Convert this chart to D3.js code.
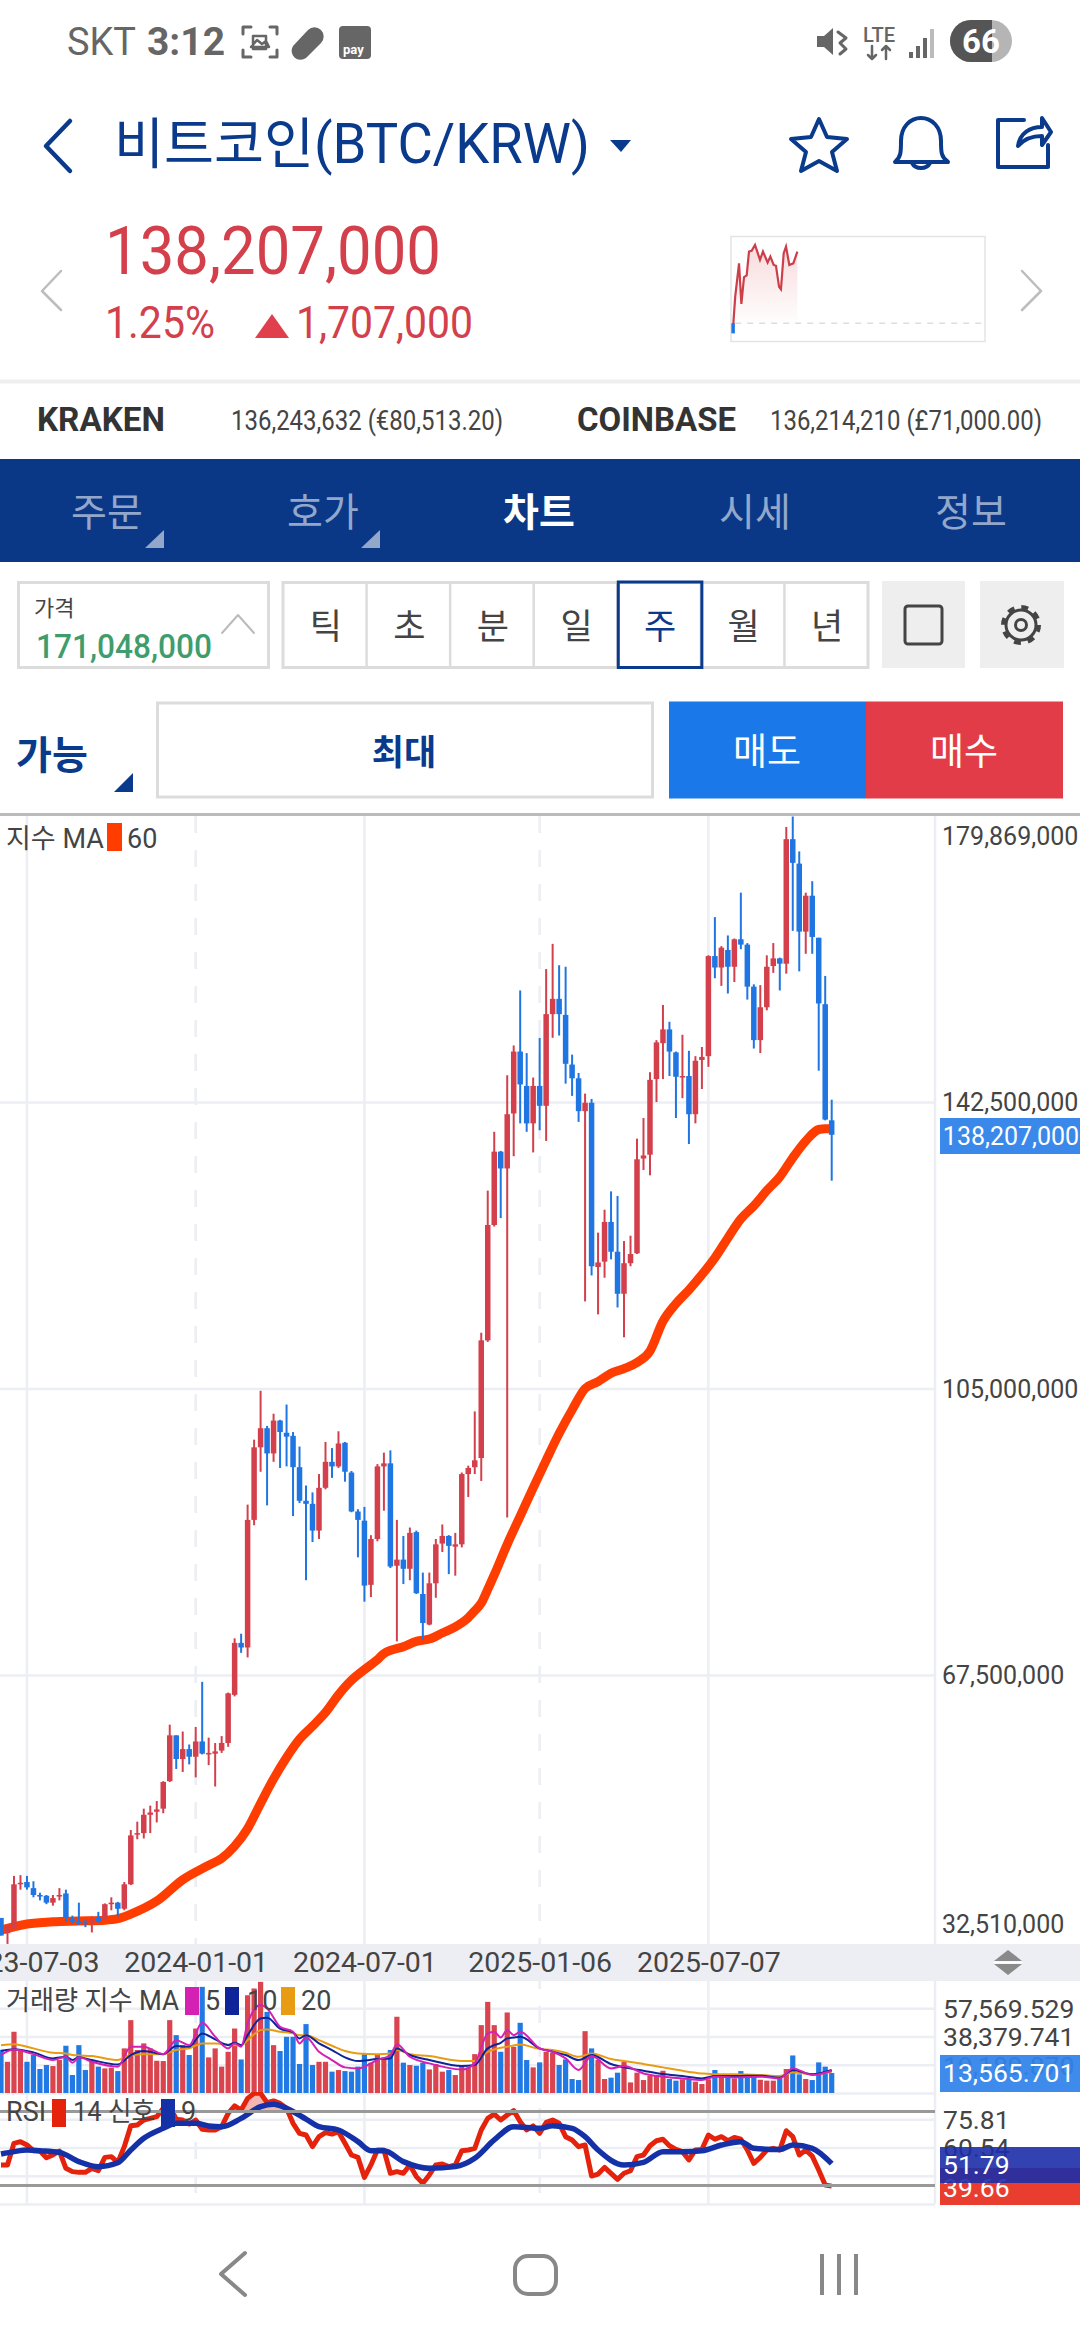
<!DOCTYPE html>
<html>
<head>
<meta charset="utf-8">
<style>
html,body{margin:0;padding:0;background:#fff;}
svg{display:block;}
text{font-family:Roboto,"Noto Sans CJK KR",sans-serif;}
</style>
<script src="https://cdn.jsdelivr.net/npm/d3@7"></script>
</head>
<body>
<div id="chart"></div>
<script>
// weekly candles in millions of KRW
var openPrice = [
35.7,33.7,34.3,40.1,40.4,39.6,38.7,38.6,37.7,38.5,
38.9,35.6,35.2,35.1,35.1,35.7,35.6,37.5,37.7,36.9,
40.1,46.6,46.8,49.2,49.6,50.0,53.6,59.6,56.5,57.8,
56.8,58.8,57.1,57.2,57.6,58.6,64.9,71.7,71.1,87.8,
97.3,99.8,96.5,100.8,99.2,98.8,94.7,90.3,89.9,86.4,
92.0,95.4,94.8,97.9,94.0,88.9,87.7,79.3,85.3,94.8,
95.2,81.8,82.6,81.4,86.2,78.1,74.1,79.5,84.7,85.7,
84.3,84.6,93.8,94.7,95.9,111.3,126.4,136.0,133.8,141.0,
149.1,144.6,139.7,144.6,142.0,154.0,156.0,153.9,147.4,145.6,
141.3,142.4,120.9,121.6,126.8,122.9,117.4,121.4,122.7,135.1,
135.6,145.5,150.2,152.0,149.0,145.7,145.9,140.9,148.0,148.5,
161.6,160.1,162.4,160.2,163.8,163.1,157.6,150.6,154.9,160.3,
161.3,160.6,176.9,173.7,164.8,169.5,164.0,155.3,140.1];
var closePrice = [
33.4,34.8,40.1,40.3,39.7,38.7,38.5,37.7,38.3,38.7,
35.7,35.2,35.1,35.0,35.5,35.2,37.5,37.7,36.9,40.1,
46.5,46.8,49.2,49.5,49.9,53.5,59.6,56.5,57.8,56.8,
58.8,57.2,57.3,57.5,58.6,65.1,71.7,71.1,87.8,97.3,
99.8,96.5,100.8,99.3,98.7,94.7,90.3,89.9,86.4,92.0,
95.4,94.8,97.8,94.1,88.9,87.8,79.2,85.3,94.8,95.2,
81.7,82.6,81.4,86.1,78.2,74.3,79.5,84.6,85.7,84.4,
84.6,93.8,94.6,95.6,111.3,126.4,136.0,133.8,140.9,149.1,
144.8,139.7,144.6,142.0,154.0,156.0,154.0,147.5,145.6,141.3,
142.4,121.0,121.5,126.8,122.9,117.4,121.4,122.6,135.0,135.5,
145.4,150.3,152.0,149.1,145.8,145.9,140.9,147.9,148.4,161.6,
160.1,162.7,160.2,163.8,163.1,157.6,150.6,154.9,160.2,161.3,
160.6,176.9,173.8,164.8,169.5,164.1,155.4,140.2,138.207];
var highPrice = [
35.7,34.8,41.2,41.3,41.2,40.5,39.0,38.7,38.7,39.6,
39.4,36.0,37.7,35.5,35.9,36.5,37.6,38.4,37.8,40.4,
47.2,48.3,50.0,50.4,51.0,53.6,61.0,59.6,60.1,58.4,
60.7,66.6,59.3,58.6,59.5,65.2,72.3,72.9,89.8,98.3,
104.7,100.1,101.7,100.9,102.9,99.3,97.4,92.3,91.4,93.8,
98.0,97.2,99.4,98.0,94.2,89.2,89.5,85.8,95.1,96.6,
96.9,87.8,85.7,86.8,86.4,80.9,80.9,85.3,87.2,85.8,
86.1,94.0,94.9,102.0,112.3,130.9,138.6,136.1,146.0,149.9,
157.1,148.9,145.7,150.9,159.9,163.2,160.4,160.2,148.7,146.3,
143.6,142.9,125.4,128.4,130.8,130.2,124.3,125.0,137.7,140.4,
146.4,150.6,155.2,153.0,149.1,151.3,149.2,148.5,149.7,161.7,
166.7,162.9,164.3,163.9,169.9,163.3,157.9,157.8,161.7,163.3,
161.4,178.5,179.869,175.3,169.9,171.4,164.0,159.0,142.8];
var lowPrice = [
33.4,32.3,34.3,39.4,39.4,38.4,38.0,37.5,37.3,38.0,
35.2,34.9,34.8,34.5,33.8,35.1,35.5,36.7,35.9,36.7,
40.0,46.0,46.1,46.8,48.2,49.4,53.5,55.2,54.8,55.8,
54.1,57.1,55.7,52.9,57.3,58.1,64.7,70.4,69.8,87.1,
94.1,89.7,95.4,94.6,94.8,88.3,90.0,79.9,84.9,85.3,
91.8,93.3,94.6,92.8,88.8,82.9,77.1,77.7,85.0,89.0,
81.5,71.9,79.4,79.9,78.1,72.1,74.0,77.6,83.6,80.7,
80.5,84.2,90.8,93.8,92.9,111.1,126.2,127.3,88.1,135.4,
139.7,138.6,135.9,138.8,137.4,150.9,151.2,144.9,143.3,139.9,
116.4,119.8,114.7,119.5,121.9,115.6,111.7,121.0,122.6,133.6,
132.9,142.5,145.5,145.9,140.4,143.0,137.0,139.7,144.2,147.1,
158.7,157.7,156.7,158.2,162.5,155.9,149.5,148.9,154.5,159.4,
157.1,159.3,164.9,159.6,161.9,161.9,146.6,140.1,132.2];

// price MA 60, candle number and value
var ma60Week = [0,4,8,12,16,18,20,24,28,32,34,36,38,40,42,44,46,48,50,52,54,56,58,59,62,64,66,68,70,72,73,74,75,76,78,80,82,84,86,88,90,92,94,96,98,100,102,104,106,108,110,112,114,116,118,120,122,124,126,127,128];
var ma60 = [34.1,34.9,35.2,35.3,35.4,35.6,36.2,37.9,40.7,42.6,43.5,45.1,47.4,50.7,53.9,56.7,59.1,60.8,62.6,64.9,66.8,68.2,69.5,70.3,71.2,71.9,72.2,73.0,73.8,75.0,75.9,76.9,78.7,80.6,84.6,88.3,92.0,95.6,99.1,102.2,105.0,105.9,107.0,107.6,108.4,109.9,113.8,116.1,117.9,119.9,122.1,124.7,127.2,128.9,130.9,132.7,135.2,137.4,138.9,139.0,139.0];

// volume in thousands
var volume = [
29.2,21.2,41.6,28.7,21.2,25.8,16.3,19.0,18.3,22.4,
32.1,12.2,32.5,15.6,22.4,17.9,16.7,17.2,14.9,30.3,
49.5,29.2,33.7,30.3,21.9,21.7,49.5,39.3,32.5,25.8,
43.8,72.1,24.2,30.3,17.9,28.0,43.8,22.8,66.4,71.0,
75.5,55.1,32.5,28.5,38.2,38.2,19.7,46.8,19.0,21.2,
21.2,14.5,15.6,14.9,14.5,17.9,26.4,20.6,25.8,24.2,
29.2,51.8,20.6,19.0,18.5,20.6,16.0,19.7,14.5,15.6,
12.2,18.3,17.4,26.4,46.1,61.9,46.1,28.0,54.7,31.4,
47.7,22.4,17.4,20.8,28.0,27.3,19.0,22.8,9.5,8.8,
42.0,30.3,22.4,9.5,10.4,13.8,21.2,7.2,13.8,8.8,
11.8,12.2,15.1,9.5,8.4,9.3,9.3,7.7,6.1,9.3,
15.6,12.2,11.5,9.9,14.9,11.8,11.8,9.0,8.4,8.4,
9.9,16.3,25.5,12.7,9.5,8.8,20.8,17.9,13.566];
var volMaWeek = [0,2,5,8,10,11,12,14,18,20,22,25,27,29,31,33,35,36,37,38,40,41,43,45,46,47,49,51,53,55,58,60,61,63,66,71,73,75,76,77,78,79,80,83,85,87,89,91,94,96,99,102,105,108,110,113,117,120,122,125,128];
var volMa5 = [25.8,29.6,26.4,22.4,24.6,20.6,24.2,21.2,17.9,31.4,31.4,26.4,35.9,32.5,47.7,38.2,30.3,33.7,31.4,47.2,59.7,57.4,45.0,41.6,33.7,37.7,28.0,22.4,17.4,16.7,22.4,25.8,33.2,24.6,20.1,16.0,20.1,40.5,41.6,37.7,42.7,39.3,41.6,30.3,28.0,23.5,15.6,25.1,16.7,18.3,13.3,11.1,9.9,8.8,11.1,10.6,11.1,9.9,16.7,12.2,15.1];
var volMa10 = [28.7,29.8,27.6,23.5,24.6,22.4,24.2,22.4,19.4,25.8,28.5,26.4,31.9,31.4,40.5,36.4,32.5,34.1,32.5,39.3,50.6,51.1,43.8,41.1,37.1,39.3,33.7,29.2,24.2,21.7,23.1,23.5,30.3,25.8,22.4,18.3,19.0,30.3,32.5,34.1,37.1,37.7,38.2,30.3,28.0,25.8,22.4,25.8,19.7,17.4,15.1,12.9,11.5,9.9,11.5,11.5,11.8,10.4,15.6,12.7,15.6];
var volMa20 = [32.5,33.2,30.3,27.3,26.9,25.8,25.5,25.1,22.4,25.8,26.4,26.4,29.2,30.3,33.7,33.7,33.0,32.5,32.5,35.9,42.7,43.2,41.6,40.5,39.3,39.3,35.9,32.1,28.5,26.9,26.4,26.9,29.2,26.4,25.1,21.7,21.7,28.0,29.6,30.7,31.4,32.3,33.0,29.8,29.2,27.3,24.6,26.9,23.1,21.7,19.7,17.4,15.1,13.3,12.7,12.7,12.2,11.5,14.0,12.7,14.5];

var rsi = [
51.1,51.1,62.8,63.7,61.9,58.8,58.6,55.0,56.5,58.6,
49.3,47.5,47.1,47.1,49.3,48.0,55.2,55.6,52.5,61.0,
72.3,72.7,75.4,76.3,77.2,81.7,82.6,75.8,75.4,73.2,
75.4,70.4,70.0,70.0,71.8,79.0,83.0,80.8,87.1,89.8,
89.8,84.8,85.7,84.4,81.7,73.6,68.2,67.3,61.0,66.4,
68.6,67.8,69.1,62.8,56.5,55.2,44.4,51.1,59.2,59.2,
46.6,47.5,46.6,51.1,44.8,41.2,45.7,51.1,51.6,50.2,
51.1,58.8,59.2,60.1,70.0,76.3,78.6,75.4,78.1,80.5,
74.5,70.0,72.2,68.2,74.1,75.4,73.6,66.4,64.6,61.0,
61.9,45.1,46.2,49.8,46.6,43.3,46.6,48.0,55.6,56.5,
61.5,64.2,65.0,61.5,59.5,58.3,53.8,59.2,59.5,67.3,
65.0,66.4,64.2,66.0,65.0,59.2,52.0,55.2,59.2,60.1,
59.2,69.6,66.4,56.5,59.2,55.9,48.4,40.3,39.66];
var signalWeek = [0,2,4,6,9,12,15,18,20,22,25,27,30,32,34,37,40,42,44,47,49,52,55,57,59,62,66,70,73,76,79,83,85,88,90,92,96,99,102,105,108,111,114,116,120,122,125,128];
var signal = [57.0,58.3,59.2,58.8,57.9,52.9,50.2,52.3,59.2,65.5,70.9,73.6,73.6,72.2,71.8,76.3,82.6,83.9,81.7,75.9,71.8,70.0,63.7,58.8,58.8,52.9,49.3,50.2,54.7,64.6,71.8,70.9,72.3,70.9,66.4,59.2,51.1,52.5,58.3,58.3,58.8,61.9,63.7,60.1,59.5,61.9,60.1,51.79];

// axis labels
var tickDates = ["2023-07-03","2024-01-01","2024-07-01","2025-01-06","2025-07-07"];
var dashedDates = ["2024-01-01","2025-01-06"];
var priceTicks = [179.869,142.5,105,67.5,32.51];
var volumeTicks = [57.569529,38.379741,19.18987];
var rsiTicks = [75.81,60.54,45.27];

// small intraday line next to the price
var sparkHour = [0.2,0.4,0.76,0.98,1.23,1.48,1.7,1.95,2.27,2.74,3.02,3.46,3.72,4.03,4.25,4.54,4.72,4.98,5.2,5.51,5.89,6.27];
var sparkPrice = [136.42,137.14,137.93,136.96,137.6,137.64,138.21,138.23,138.37,138.01,138.21,137.95,138.09,137.89,137.87,137.37,137.31,138.17,138.33,137.89,137.93,138.207];

var tabNames = ["주문","호가","차트","시세","정보"];
var periodNames = ["틱","초","분","일","주","월","년"];

var red = "#d3404c", blue = "#1f75e2", navy = "#0a3a8c";
var gridColor = "#eceef3", textColor = "#444";

var parseDay = d3.utcParse("%Y-%m-%d");
var firstWeek = parseDay("2023-06-05");
var weeks = openPrice.map(function(d,i){ return d3.utcMonday.offset(firstWeek,i); });

var svg = d3.select("#chart").append("svg")
    .attr("width",1080)
    .attr("height",2340)
    .attr("viewBox","0 0 1080 2340");

function label(x,y,txt,size,color,opt){
    opt = opt || {};
    var t = svg.append("text")
        .attr("x",x).attr("y",y)
        .attr("font-size",size)
        .attr("fill",color)
        .attr("font-weight",opt.weight || 400)
        .attr("text-anchor",opt.anchor || "start")
        .text(txt);
    if(opt.len){ t.attr("textLength",opt.len).attr("lengthAdjust","spacingAndGlyphs"); }
    return t;
}
function shape(d,fill,stroke,w){
    return svg.append("path").attr("d",d)
        .attr("fill",fill || "none")
        .attr("stroke",stroke || "none")
        .attr("stroke-width",w || 0)
        .attr("stroke-linejoin","round")
        .attr("stroke-linecap","round");
}
function box(x,y,w,h,fill,stroke,sw){
    return svg.append("rect").attr("x",x).attr("y",y).attr("width",w).attr("height",h)
        .attr("fill",fill || "none").attr("stroke",stroke || "none").attr("stroke-width",sw || 0);
}

// ---- status bar
label(67,55,"SKT",38,"#666",{len:69});
label(147,55,"3:12",38,"#666",{weight:700,len:78});
shape("M243 34v-7h8M270 27h7v7M277 50v7h-7M251 57h-8v-7",null,"#666",3);
shape("M251 47l6-7 5 4 4-3 3 6z M253 36h13v13h-13z",null,"#666",2.5);
shape("M293 46l15-16a9 9 0 0 1 13 13l-15 15a9 9 0 0 1-13-12z","#666");
box(339,26,32,33,"#666").attr("rx",4);
label(343,54,"pay",13,"#fff",{weight:700});
shape("M817 36h7l9-8v27l-9-8h-7z","#666");
shape("M838 32l8 6-6 5 6 6-6 5",null,"#666",3);
label(863,42,"LTE",20,"#666",{weight:500,len:32});
shape("M872 46v13M868 55l4 4 4-4M886 59v-13M882 50l4-4 4 4",null,"#666",2.5);
box(909,52,4,6,"#666"); box(916,46,4,12,"#666"); box(923,38,4,20,"#666"); box(930,29,4,29,"#bbb");
svg.append("rect").attr("x",950).attr("y",20).attr("width",62).attr("height",42).attr("rx",21).attr("fill","#b5b5b5");
shape("M992 20h-21a21 21 0 0 0 0 42h21z","#555");
label(981,53,"66",33,"#fff",{weight:700,anchor:"middle"});

// ---- header
shape("M70 121l-24 25 24 25",null,navy,4.5);
label(114,163,"비트코인(BTC/KRW)",55,navy,{len:476});
shape("M610 140h21l-10 12z",navy);
shape("M819 119l8 18 20 2-15 13 5 19-18-10-18 10 5-19-15-13 20-2z",null,navy,4);
shape("M895 162c6-5 6-10 6-21 0-14 9-23 20-23s20 9 20 23c0 11 0 16 7 21z M912 163a10 9 0 0 0 18 0",null,navy,4);
shape("M1024 120h-26v47h50v-22",null,navy,4);
shape("M1018 146c2-13 12-19 24-19v-9l9 14-9 13v-9c-11 0-18 3-24 10z",null,navy,4);

// ---- price block
label(105,274,"138,207,000",66,red,{len:336});
label(105,338,"1.25%",44,red,{len:110});
shape("M255 338l17-24 17 24z","#e0404c");
label(296,338,"1,707,000",44,red,{len:177});
shape("M61 271l-19 20 19 19",null,"#bdbdbd",2.5);
shape("M1022 271l19 20-19 19",null,"#bdbdbd",2.5);

box(731,236.5,254,105,"#fff","#e4e4e4",1.5);
var sparkX = d3.scaleLinear().domain([0,24]).range([731,985]);
var sparkY = d3.scaleLinear().domain([136.5,138.207]).range([323.3,251.7]);
var defs = svg.append("defs");
var sparkFill = defs.append("linearGradient").attr("id","sparkFill").attr("x1",0).attr("y1",0).attr("x2",0).attr("y2",1);
sparkFill.append("stop").attr("offset",0).attr("stop-color","#e05a60").attr("stop-opacity",0.22);
sparkFill.append("stop").attr("offset",1).attr("stop-color","#e05a60").attr("stop-opacity",0);
svg.append("path").datum(sparkHour)
    .attr("fill","url(#sparkFill)")
    .attr("d",d3.area().x(function(d){return sparkX(d);}).y0(sparkY(136.5))
        .y1(function(d,i){return sparkY(sparkPrice[i]);}));
svg.append("line").attr("x1",sparkX(0.4)).attr("x2",985).attr("y1",sparkY(136.5)).attr("y2",sparkY(136.5))
    .attr("stroke","#ddd").attr("stroke-width",1.5).attr("stroke-dasharray","6 6");
svg.append("path").datum(sparkHour).attr("fill","none").attr("stroke","#cc3f4a").attr("stroke-width",2.2)
    .attr("d",d3.line().x(function(d){return sparkX(d);}).y(function(d,i){return sparkY(sparkPrice[i]);}));
svg.append("line").attr("x1",sparkX(0.2)).attr("x2",sparkX(0.2)).attr("y1",sparkY(136.5)).attr("y2",sparkY(136.26))
    .attr("stroke",blue).attr("stroke-width",3.5);

box(0,379.5,1080,4,"#efefef");
label(37,431,"KRAKEN",33,"#333",{weight:700,len:128});
label(231,430,"136,243,632 (€80,513.20)",28,"#444",{len:272});
label(577,431,"COINBASE",33,"#333",{weight:700,len:159});
label(770,430,"136,214,210 (£71,000.00)",28,"#444",{len:272});

// ---- blue tabs
box(0,459,1080,103,"#0a3886");
var tabCenter = d3.scalePoint().domain(tabNames).range([107,971]);
tabNames.forEach(function(n){
    var on = n=="차트";
    label(tabCenter(n),526,n,39,on ? "#fff" : "#93a7cb",{anchor:"middle",weight:on ? 700 : 400});
});
shape("M145 548l19-18v18z","#93a7cb");
shape("M361 548l19-18v18z","#93a7cb");

// ---- price box and periods
box(18.5,582.5,250,85,"#fff","#dcdcdc",3);
label(34,616,"가격",22,"#444");
label(36,658,"171,048,000",34,"#3f9d6d",{weight:500,len:176});
shape("M222 633l16-18 16 18",null,"#bbb",2);

box(283,582.5,585,85,"#fff","#dcdcdc",3);
var periodX = d3.scaleBand().domain(periodNames).range([283,868]);
periodNames.forEach(function(n,i){
    if(i>0){ svg.append("line").attr("x1",periodX(n)).attr("x2",periodX(n)).attr("y1",582).attr("y2",668).attr("stroke","#dcdcdc").attr("stroke-width",2.5); }
    label(periodX(n)+periodX.bandwidth()/2+1,639,n,35,n=="주" ? navy : "#444",{anchor:"middle"});
});
box(periodX("주")+1,582,periodX.bandwidth(),85.5,"none",navy,3);
box(882,581,83,87,"#eeeeee");
svg.append("rect").attr("x",905).attr("y",606).attr("width",37).attr("height",38).attr("rx",3).attr("fill","none").attr("stroke","#444").attr("stroke-width",3);
box(980,581,84,87,"#eeeeee");
svg.append("circle").attr("cx",1021).attr("cy",625).attr("r",15).attr("fill","none").attr("stroke","#444").attr("stroke-width",3);
svg.append("circle").attr("cx",1021).attr("cy",625).attr("r",18).attr("fill","none").attr("stroke","#444").attr("stroke-width",4).attr("stroke-dasharray","7 7.1");
svg.append("circle").attr("cx",1021).attr("cy",625).attr("r",5.5).attr("fill","none").attr("stroke","#444").attr("stroke-width",3);

// ---- order row
label(16,769,"가능",39,navy,{weight:700});
shape("M114 792l19-19v19z",navy);
box(157.5,703,495,94,"#fff","#dcdcdc",3);
label(404,765,"최대",35,navy,{anchor:"middle",weight:700});
box(669,701.5,197,97,"#1a78e8");
box(866,701.5,197,97,"#e23c48");
label(767,765,"매도",37,"#fff",{anchor:"middle"});
label(964,765,"매수",37,"#fff",{anchor:"middle"});

// ---- chart scales
var x = d3.scaleUtc().domain([weeks[0],weeks[128]]).range([1,831.7]);
var y = d3.scaleLinear().domain([32.51,179.869]).range([1942.3,816.5]);
var yVol = d3.scaleLinear().domain([0,76.75948]).range([2093,1980]);
var yRsi = d3.scaleLinear().domain([30,90]).range([2204,2093]);

defs.append("clipPath").attr("id","mainClip").append("rect").attr("x",0).attr("y",816).attr("width",935).attr("height",1128);
defs.append("clipPath").attr("id","volClip").append("rect").attr("x",0).attr("y",1980).attr("width",935).attr("height",113);
defs.append("clipPath").attr("id","rsiClip").append("rect").attr("x",0).attr("y",2092).attr("width",935).attr("height",112);
defs.append("clipPath").attr("id","overClip").append("rect").attr("x",0).attr("y",2092).attr("width",935).attr("height",yRsi(80)-2092);

box(0,813,1080,3,"#bbbbbb");

// grid
svg.append("g").attr("transform","translate(935,0)")
    .call(d3.axisLeft(y).tickValues([142.5,105,67.5]).tickSize(935).tickFormat(""))
    .call(function(g){ g.select(".domain").remove(); g.selectAll("line").attr("stroke",gridColor).attr("stroke-width",2.5); });
svg.append("g").attr("transform","translate(935,0)")
    .call(d3.axisLeft(yVol).tickValues(volumeTicks.concat([0])).tickSize(935).tickFormat(""))
    .call(function(g){ g.select(".domain").remove(); g.selectAll("line").attr("stroke",gridColor).attr("stroke-width",2.5); });
svg.append("g").attr("transform","translate(935,0)")
    .call(d3.axisLeft(yRsi).tickValues(rsiTicks.concat([30])).tickSize(935).tickFormat(""))
    .call(function(g){ g.select(".domain").remove(); g.selectAll("line").attr("stroke",gridColor).attr("stroke-width",2.5); });

svg.append("g").selectAll("line").data(tickDates).join("line")
    .attr("x1",function(d){return x(parseDay(d));})
    .attr("x2",function(d){return x(parseDay(d));})
    .attr("y1",816).attr("y2",2204)
    .attr("stroke",gridColor).attr("stroke-width",2.5)
    .attr("stroke-dasharray",function(d){ return dashedDates.indexOf(d)>=0 ? "17 17" : null; });
svg.append("line").attr("x1",935).attr("x2",935).attr("y1",816).attr("y2",2204).attr("stroke",gridColor).attr("stroke-width",2.5);

// MA 60 goes under the candles
var mainG = svg.append("g").attr("clip-path","url(#mainClip)");
mainG.append("path").datum(ma60Week)
    .attr("fill","none").attr("stroke","#ff3d00").attr("stroke-width",9).attr("stroke-linejoin","round")
    .attr("d",d3.line().x(function(d){return x(weeks[d]);}).y(function(d,i){return y(ma60[i]);}).curve(d3.curveMonotoneX));

var candle = mainG.selectAll("g.candle").data(weeks).join("g").attr("class","candle");
candle.append("line")
    .attr("x1",function(d){return x(d);}).attr("x2",function(d){return x(d);})
    .attr("y1",function(d,i){return y(highPrice[i]);})
    .attr("y2",function(d,i){return y(lowPrice[i]);})
    .attr("stroke-width",2)
    .attr("stroke",function(d,i){return closePrice[i]>=openPrice[i] ? red : blue;});
candle.append("rect")
    .attr("x",function(d){return x(d)-2.75;})
    .attr("width",5.5)
    .attr("y",function(d,i){return y(Math.max(openPrice[i],closePrice[i]));})
    .attr("height",function(d,i){return Math.max(1.5,Math.abs(y(openPrice[i])-y(closePrice[i])));})
    .attr("fill",function(d,i){return closePrice[i]>=openPrice[i] ? red : blue;});

// date strip
box(0,1944,1080,37,gridColor);
svg.append("g").attr("transform","translate(0,1944)")
    .call(d3.axisBottom(x).tickValues(tickDates.map(parseDay)).tickSize(0).tickPadding(7.5).tickFormat(d3.utcFormat("%Y-%m-%d")))
    .call(function(g){ g.select(".domain").remove(); g.selectAll("text").attr("font-size",28.5).attr("fill",textColor).attr("font-family",null); });
shape("M1008 1950l14 11h-28z","#8a8a8a");
shape("M1008 1975l14-11h-28z","#8a8a8a");
box(994,1961.5,28,2,"#fff");

// volume
var volG = svg.append("g").attr("clip-path","url(#volClip)");
volG.selectAll("rect").data(weeks).join("rect")
    .attr("x",function(d){return x(d)-2.6;})
    .attr("width",5.2)
    .attr("y",function(d,i){return yVol(volume[i]);})
    .attr("height",function(d,i){return yVol(0)-yVol(volume[i]);})
    .attr("fill",function(d,i){return closePrice[i]>=openPrice[i] ? "#d9444f" : "#2179e4";});
[[volMa20,"#e89c14"],[volMa10,"#10249a"],[volMa5,"#d421b4"]].forEach(function(s){
    volG.append("path").datum(volMaWeek)
        .attr("fill","none").attr("stroke",s[1]).attr("stroke-width",2)
        .attr("d",d3.line().x(function(d){return x(weeks[d]);}).y(function(d,i){return yVol(s[0][i]);}).curve(d3.curveMonotoneX));
});

// RSI
var rsiLineG = svg.append("g").attr("clip-path","url(#rsiClip)");
svg.append("g").selectAll("line").data([80,40]).join("line")
    .attr("x1",0).attr("x2",935)
    .attr("y1",function(d){return yRsi(d);}).attr("y2",function(d){return yRsi(d);})
    .attr("stroke","#999").attr("stroke-width",3);
rsiLineG.append("path").datum(weeks)
    .attr("clip-path","url(#overClip)")
    .attr("fill","#f5b5b0")
    .attr("d",d3.area().x(function(d){return x(d);}).y0(yRsi(80)).y1(function(d,i){return yRsi(rsi[i]);}));
rsiLineG.append("path").datum(weeks)
    .attr("fill","none").attr("stroke","#e5230c").attr("stroke-width",5).attr("stroke-linejoin","round")
    .attr("d",d3.line().x(function(d){return x(d);}).y(function(d,i){return yRsi(rsi[i]);}));
rsiLineG.append("path").datum(signalWeek)
    .attr("fill","none").attr("stroke","#1531a8").attr("stroke-width",5.5).attr("stroke-linejoin","round")
    .attr("d",d3.line().x(function(d){return x(weeks[d]);}).y(function(d,i){return yRsi(signal[i]);}).curve(d3.curveMonotoneX));

// legends sit on top of the marks
label(6,848,"지수 MA",27,textColor);
box(107,823,15,28,"#ff3d00");
label(127,848,"60",27,textColor);

label(6,2010,"거래량 지수 MA",27,textColor,{len:173});
box(185,1987,14,28,"#d421b4");
label(205,2010,"5",27,textColor);
box(225,1987,14,28,"#10249a");
label(247,2010,"10",27,textColor);
box(281,1987,14,28,"#e89c14");
label(301,2010,"20",27,textColor);

label(6,2121,"RSI",27,textColor);
box(52,2099,14,28,"#e5230c");
label(73,2121,"14 신호",27,textColor,{len:82});
box(161,2099,14,28,"#1531a8");
label(181,2121,"9",27,textColor);

// right axes
var priceAxis = svg.append("g").attr("transform","translate(935,0)")
    .call(d3.axisRight(y).tickValues(priceTicks).tickSize(0).tickPadding(7)
        .tickFormat(function(d){return d3.format(",")(Math.round(d*1000000));}));
priceAxis.select(".domain").remove();
priceAxis.selectAll("text").attr("font-size",25).attr("fill",textColor).attr("font-family",null)
    .attr("dy",function(d){ return d==179.869 ? "1.1em" : d==32.51 ? "-0.4em" : "0.35em"; });
box(940,1118,140,36,"#3a88ea");
label(1011,1145,"138,207,000",25,"#fff",{anchor:"middle"});

var volAxis = svg.append("g").attr("transform","translate(935,0)")
    .call(d3.axisRight(yVol).tickValues(volumeTicks).tickSize(0).tickPadding(8)
        .tickFormat(function(d){return d3.format(",.3f")(d*1000);}));
volAxis.select(".domain").remove();
volAxis.selectAll("text").attr("font-size",26.5).attr("fill",textColor).attr("font-family",null).attr("dy","0.35em");
box(940,2055,140,37,"#2f82ea").attr("fill-opacity",0.93);
label(943,2082,"13,565.701",26.5,"#fff");

var rsiAxis = svg.append("g").attr("transform","translate(935,0)")
    .call(d3.axisRight(yRsi).tickValues(rsiTicks).tickSize(0).tickPadding(8)
        .tickFormat(d3.format(".2f")));
rsiAxis.select(".domain").remove();
rsiAxis.selectAll("text").attr("font-size",26.5).attr("fill",textColor).attr("font-family",null).attr("dy","0.35em");
box(940,2168,140,37,"#e93a2b").attr("fill-opacity",0.98);
label(943,2197,"39.66",26.5,"#fff");
box(940,2147,140,36,"#1d2ea8").attr("fill-opacity",0.9);
label(943,2174,"51.79",26.5,"#fff");

// ---- nav bar
shape("M245 2253l-24 21 24 21",null,"#888",4);
svg.append("rect").attr("x",515).attr("y",2256).attr("width",41).attr("height",38).attr("rx",13).attr("fill","none").attr("stroke","#888").attr("stroke-width",4);
box(820,2254,4,41,"#888"); box(837,2254,4,41,"#888"); box(854,2254,4,41,"#888");
</script>
</body>
</html>
